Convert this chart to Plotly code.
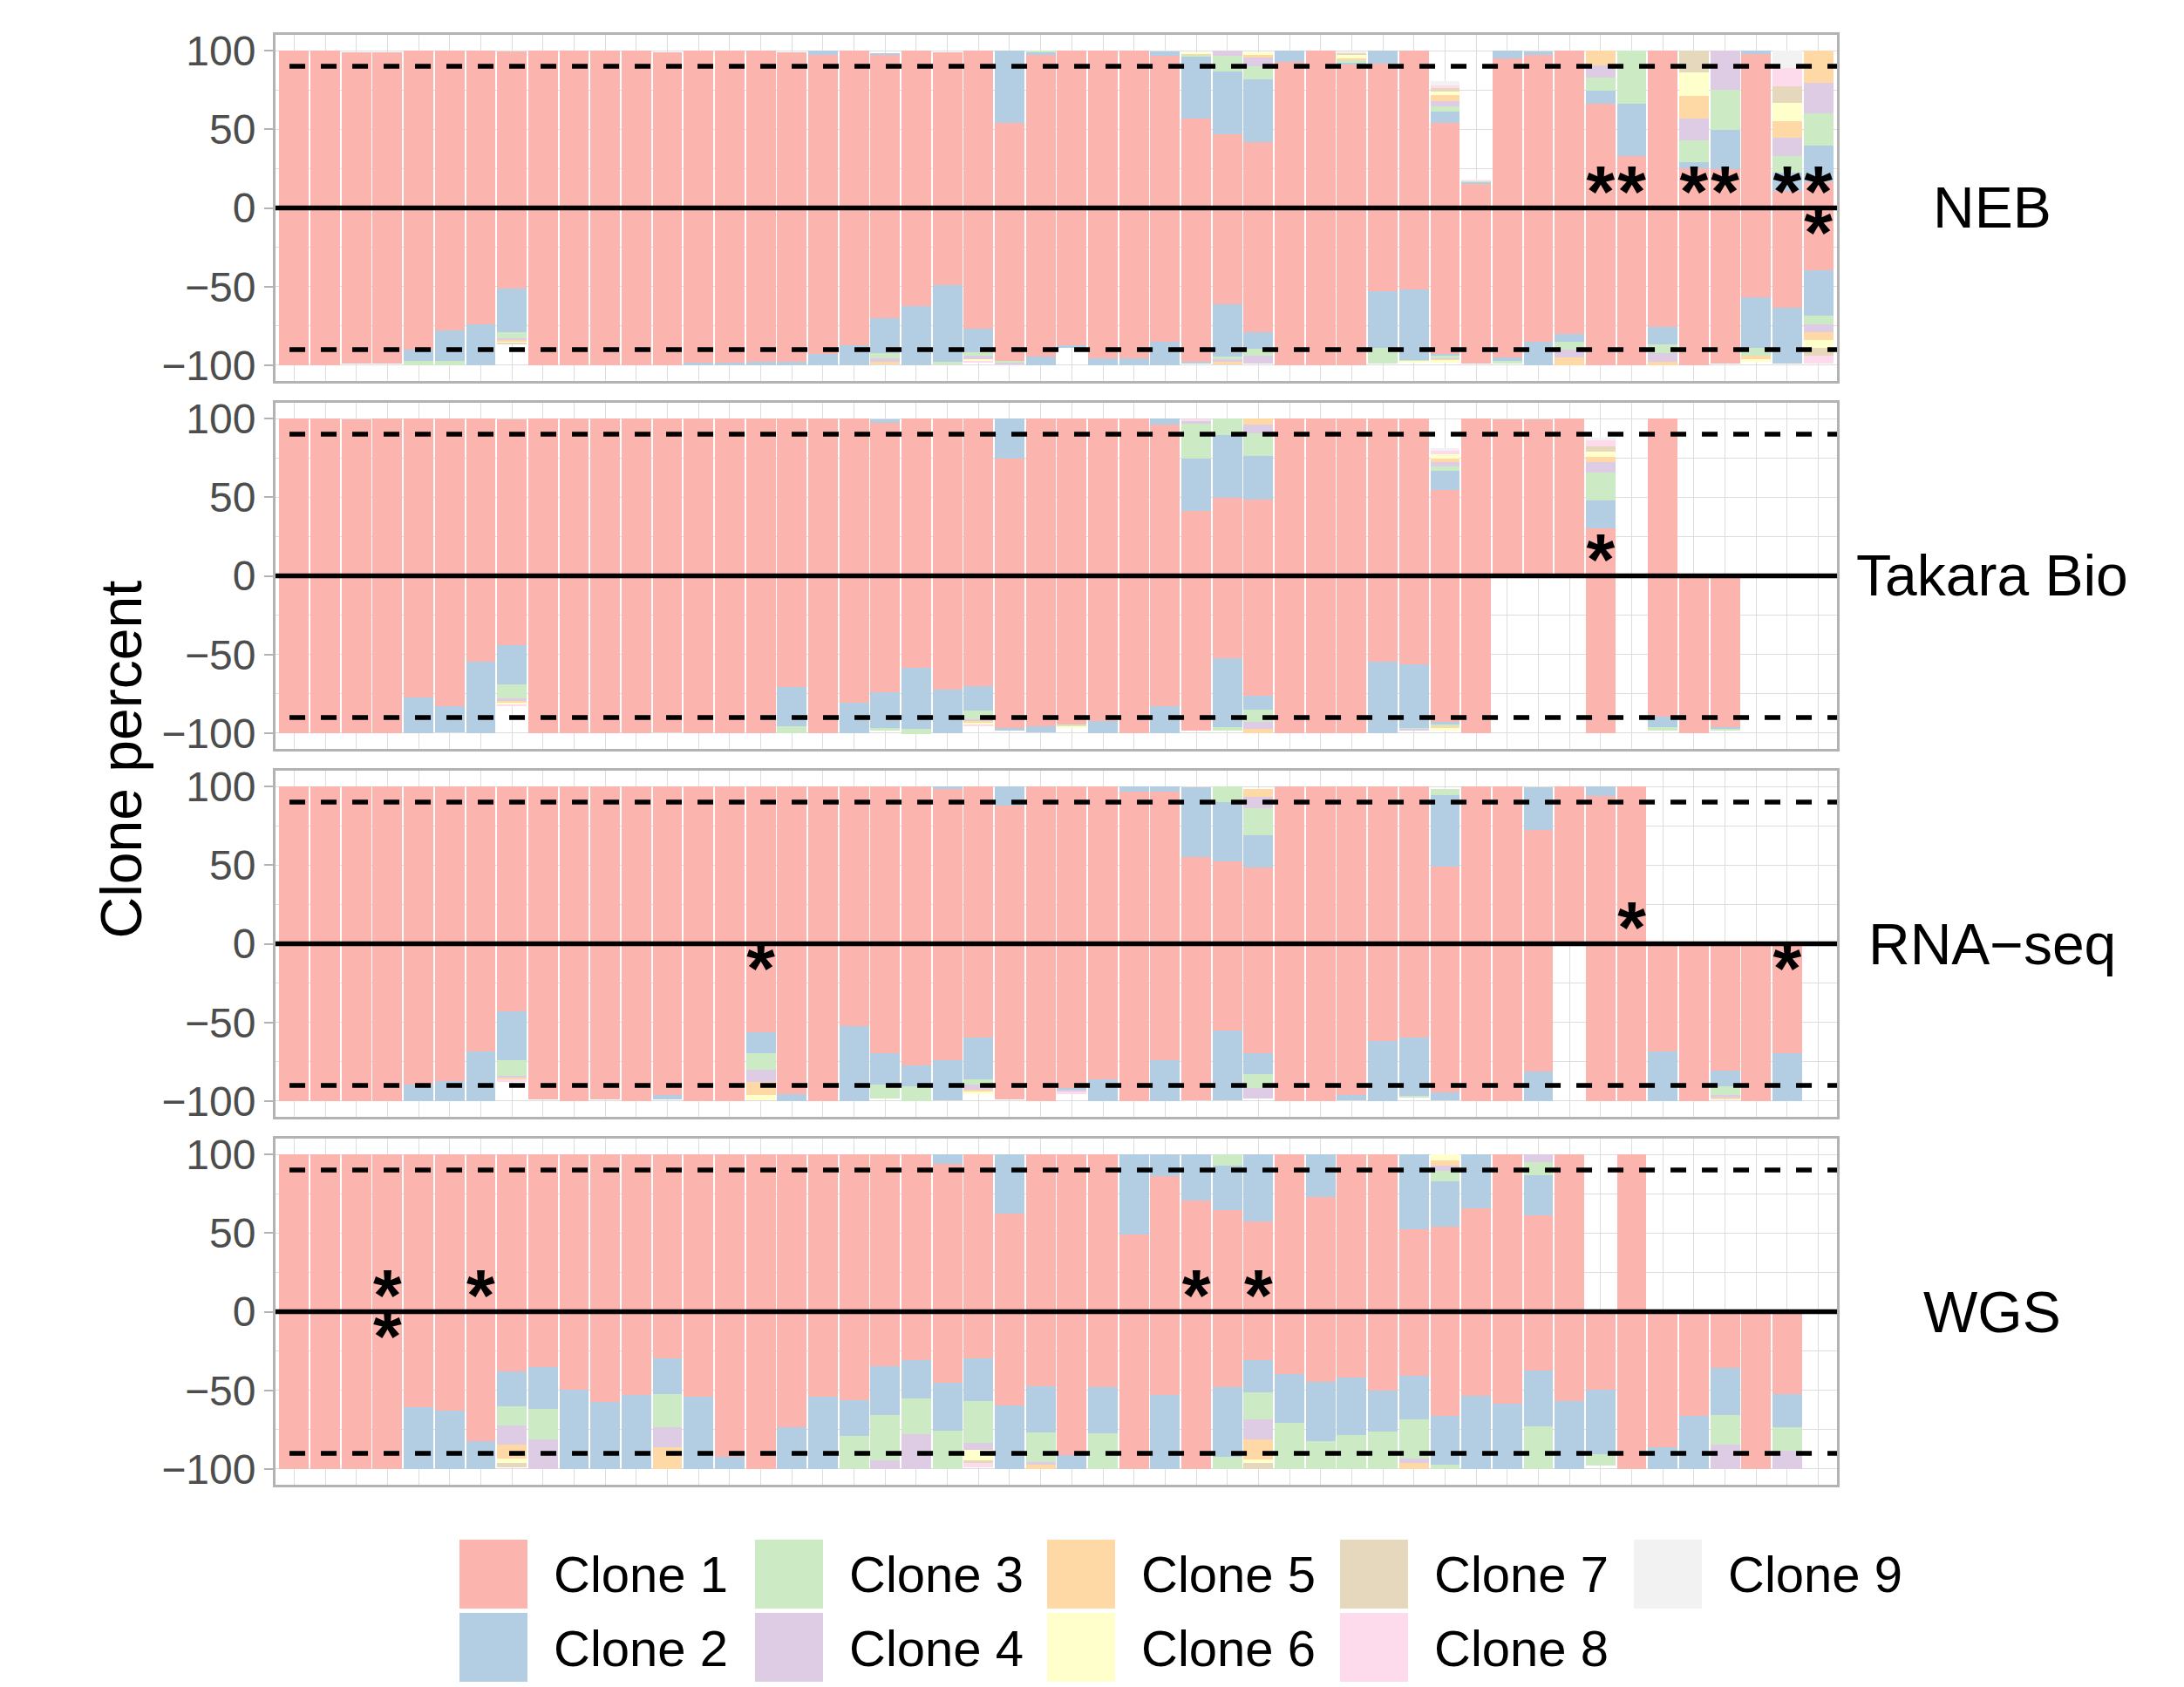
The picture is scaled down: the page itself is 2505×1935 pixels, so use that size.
import plotly.graph_objects as go

# ---------------- data ----------------
CLONE_NAMES = [f"Clone {i}" for i in range(1, 10)]
CLONE_COLORS = ["#FBB4AE", "#B3CDE3", "#CCEBC5", "#DECBE4", "#FED9A6",
                "#FFFFCC", "#E5D8BD", "#FDDAEC", "#F2F2F2"]
PANELS = ["NEB", "Takara Bio", "RNA\u2212seq", "WGS"]
SAMPLES = list(range(1, 51))
Y_TICKS = [-100, -50, 0, 50, 100]
Y_MINOR = [-75, -25, 25, 75]
THRESHOLD = 90

# each entry: clone percentages [clone1, clone2, ...] for one sample
NEB_TOP = [
    [100], [100], [99], [99], [100], [100], [100], [99.5], [100], [100],
    [100], [100], [99], [100], [100], [100], [99], [97, 3], [100], [97, 1.5],
    [100], [99], [100], [54, 46], [97, 2, 0.5], [100], [100], [100], [96.5, 3],
    [57, 39.5, 1, 0, 0.5, 1],
    [47, 39.5, 10, 3.5], [42, 40, 8, 5.5, 1.8, 1.8], [93, 7], [100],
    [91, 1.5, 1.5, 0, 1, 2, 1.5, 0, 0.5], [91.5, 8.5], [100],
    [54, 7.5, 3.3, 3.1, 3.7, 2.4, 2.2, 1.8, 2.8],
    [15.5, 1, 0.5, 0, 0, 0, 0, 0.5, 0.5], [95, 5],
    [97, 2.5], [100], [66.5, 8.3, 8.3, 7.7, 9.2], [33, 33.5, 33.5], [100],
    [25, 4, 14, 14, 14, 15, 14], [24.7, 24.7, 25.6, 24.9], [98, 2],
    [11, 11.4, 10.6, 11.5, 10.8, 11.5, 10.4, 11.9, 10.8],
    [16.5, 23, 20.7, 19.6, 20],
]
NEB_BOTTOM = [
    [100], [100], [99], [99], [90, 7.5, 2.5], [78, 19.5, 2.5], [74, 26],
    [51, 28, 4.3, 0.8, 1, 1, 0.5], [100], [100],
    [100], [100], [100], [98.5, 1.5], [98.5, 1.5], [97.6, 2.4], [97.6, 2.4],
    [92.6, 7.4], [87, 13], [70, 22, 3.7, 2.5, 1],
    [62.5, 37.5], [49, 48.7, 1.5], [77, 14.8, 2.2, 2.4, 0, 1.1, 0, 1.1],
    [97.6, 0, 0.8, 0.7], [94.4, 5.6], [87.4, 1.5], [95.7, 4.3], [95.7, 4.3],
    [85, 15], [97.6, 1.5],
    [61.5, 33, 1.9, 1.4, 1.4], [79, 10.7, 4.1, 5.2], [100], [100], [100],
    [53, 35.7, 10.3], [51.7, 45, 0.9, 0, 0, 0.9], [92.6, 1.5, 1.5, 1, 0.5, 1],
    [99], [94.8, 2.5, 1.5],
    [85, 15], [80, 5, 4.8, 5, 5.2], [100], [100], [75.7, 11.1, 5.2, 5.6, 2.4],
    [100], [99], [57, 31.7, 5.5, 0, 1.9, 1.8], [63.2, 35.7],
    [39.4, 29.3, 5.1, 5, 5, 5.1, 5, 5.1],
]
TAKARA_TOP = [
    [100], [100], [99.6], [100], [100], [100], [100], [99.6], [100], [100],
    [100], [100], [100], [100], [100], [100], [100], [100], [100], [97, 2.5],
    [100], [100], [100], [74.6, 25.4], [100], [100], [100], [100], [96.3, 3.7],
    [41.3, 33.3, 22.2, 1.9, 0, 0, 0, 0.9],
    [49.6, 39.8, 10.6], [48.7, 27.6, 14.1, 5.9, 3.7], [100], [100], [100],
    [100], [100], [54.6, 12.4, 2.4, 2.8, 2.2, 3, 0, 1.9, 1.7], [100], [99.6],
    [99.6], [100], [30.2, 17.6, 17.6, 6.9, 3.3, 3.1, 3.7, 3.7, 1.9], [],
    [100], [], [], [], [], [],
]
TAKARA_BOTTOM = [
    [100], [100], [100], [100], [77.2, 22.8], [83, 16.4], [54.4, 45.6],
    [43.8, 25.2, 9.1, 1.5, 1.5, 1, 0, 1], [100], [100],
    [100], [100], [99.5], [100], [100], [100], [70.8, 24.6, 4.6], [100],
    [80.7, 19.3], [74, 22.6, 1.8],
    [58.4, 38.7, 3.3], [72.4, 27.6], [70, 15.5, 5.5, 1.5, 1, 1, 0, 1],
    [96.7, 1.8], [95.4, 4], [94.9, 0, 0.9, 0, 0, 0.9], [92.2, 7.8], [100],
    [83, 17], [98.5],
    [52.6, 43.8, 2.2], [76.3, 8.6, 7.8, 4.4, 2.9], [100], [100], [100],
    [54.4, 45.6], [56, 40.7, 0.9, 0.9], [92.7, 1.8, 1.3, 0, 0.9, 1.8], [100], [],
    [], [], [100], [], [89.4, 6.9, 2.2], [100], [96.4, 1, 0.8], [], [], [],
]
RNASEQ_TOP = [
    [100], [100], [100], [100], [100], [100], [100], [100], [100], [100],
    [100], [100], [100], [100], [100], [100], [100], [100], [100], [100],
    [100], [98.5, 1.5], [100], [88, 12], [100], [100], [100], [96.5, 3.3],
    [96.5, 3.3], [55, 44.7],
    [52.4, 37.9, 9.7], [48.5, 20.5, 17.2, 7.3, 4.9], [100], [100], [100],
    [100], [100], [49, 45.5, 4], [100], [100],
    [72.2, 27.5], [100], [93.8, 6], [100], [], [], [], [], [], [],
]
RNASEQ_BOTTOM = [
    [100], [100], [100], [100], [89.6, 10.4], [87.2, 12.8], [68.4, 31.6],
    [43, 31.1, 9.9, 1.1, 1.3, 0, 0, 1.3], [98.7], [100],
    [98.7], [100], [96.3, 2.4], [100], [100], [56.1, 13.7, 10.1, 8.2, 8.2, 3.3],
    [95.4, 4.6], [100], [52.1, 47.9], [69.8, 19.7, 9.1],
    [77.1, 13.7, 9.2], [74, 25.6], [59.4, 26.9, 3.3, 3.1, 1.4, 1.3], [98.7],
    [100], [91.8, 1, 0, 1.5, 0, 0, 0, 1.1], [86.3, 13.7], [100], [74, 26],
    [99.6],
    [55.2, 44.4], [69.8, 13.2, 8.8, 6.4], [100], [100], [96, 3.7],
    [61.6, 38.4], [59.4, 37.5, 0.9], [94.5, 5.1], [100], [100],
    [81.4, 18.6], [], [100], [100], [68.6, 31.4], [100],
    [80.4, 10.1, 5.9, 1.2, 1.2], [100], [69.3, 30.7], [],
]
WGS_TOP = [
    [100], [100], [100], [100], [100], [100], [100], [100], [100], [100],
    [100], [100], [100], [100], [100], [100], [100], [100], [100], [100],
    [100], [94.2, 5.8], [100], [62.2, 37.8], [100], [100], [100], [49, 51],
    [85.9, 14.1], [70.4, 29.6],
    [64.5, 28.2, 7.3], [57.2, 42.8], [100], [73.1, 26.9], [100], [100],
    [52.5, 47.5], [53.9, 28.9, 6.8, 3.1, 3.7, 3.6], [65.4, 34.6], [100],
    [61.2, 25.6, 8.3, 4.9], [100], [], [100], [], [], [], [], [], [],
]
WGS_BOTTOM = [
    [100], [100], [100], [100], [60.9, 39.1], [62.7, 37.3], [82.3, 17.7],
    [37.8, 22.1, 12.6, 12.1, 8.6, 3.1, 2.7], [35.3, 26.5, 19.6, 18.6],
    [49.4, 50.6],
    [57.6, 42.4], [52.7, 47.3], [29.8, 22.3, 21.4, 12.8, 13.7], [54.3, 45.7],
    [92.3, 7.7], [100], [73.5, 26.5], [54.3, 45.7], [56.1, 22.9, 21],
    [34.7, 31.1, 28.7, 5.5],
    [30.5, 24.7, 22.9, 21.9], [45.3, 30.3, 24.4],
    [29.8, 26.9, 26.5, 4.6, 0, 6.8, 1.8, 2.7], [59.4, 40.6],
    [47.2, 29.3, 19, 1.8, 2.7], [91.4, 8.6], [47.9, 29.4, 22.7], [100],
    [53, 47], [100],
    [47.9, 44.1, 8], [30.7, 20.5, 17, 13.2, 12.4, 2.6, 3.6], [39.7, 31.1, 29.2],
    [44.4, 37.9, 17.7], [42, 36.2, 21.8], [50.3, 26.1, 23.6],
    [40.6, 28, 24.7, 3.1, 3.6], [66.2, 31.1, 2.7], [53.6, 46.4], [58.5, 41.5],
    [37.5, 35.1, 27.4], [57, 43], [49.7, 40.8, 7.3], [100], [85.9, 14.1],
    [66.2, 33.8], [35.6, 30.2, 18.8, 15.4], [100], [52.1, 21.4, 14.8, 11.7], [],
]

# samples marked with an asterisk (upper / lower half of each panel)
NEB_STARS_UP = [43, 44, 46, 47, 49, 50]
NEB_STARS_DOWN = [50]
TAKARA_STARS_UP = [43]
TAKARA_STARS_DOWN = []
RNASEQ_STARS_UP = [44]
RNASEQ_STARS_DOWN = [16, 49]
WGS_STARS_UP = [4, 7, 30, 32]
WGS_STARS_DOWN = [4]

PANEL_DATA = [
    (NEB_TOP, NEB_BOTTOM, NEB_STARS_UP, NEB_STARS_DOWN),
    (TAKARA_TOP, TAKARA_BOTTOM, TAKARA_STARS_UP, TAKARA_STARS_DOWN),
    (RNASEQ_TOP, RNASEQ_BOTTOM, RNASEQ_STARS_UP, RNASEQ_STARS_DOWN),
    (WGS_TOP, WGS_BOTTOM, WGS_STARS_UP, WGS_STARS_DOWN),
]

# ---------------- layout geometry (pixels) ----------------
W, H = 2505, 1935
L, R = 316, 2107
PANEL_BOXES = [(40, 437), (462, 859), (884, 1281), (1306, 1703)]
TOP, BOTTOM = PANEL_BOXES[0][0], PANEL_BOXES[-1][1]
PW, PH = R - L, BOTTOM - TOP
STAR_Y_UP, STAR_Y_DOWN = 6, -20   # anchor of the asterisk labels (data units)


def px_x(px):
    return (px - L) / PW


def px_y(py):
    return (BOTTOM - py) / PH


FONT = "Liberation Sans, Arial, Helvetica, sans-serif"
GRID = "#DEDEDE"
BORDER = "#B3B3B3"

fig = go.Figure()


def layer(rows, k, sign):
    return [sign * (r[k] if k < len(r) else 0) for r in rows]


shapes = []
annotations = []
for p, (top, bottom, up, down) in enumerate(PANEL_DATA):
    n = "" if p == 0 else str(p + 1)
    xa, ya = "x" + n, "y" + n
    for rows, sign in ((top, 1), (bottom, -1)):
        for k in range(9):
            fig.add_trace(go.Bar(
                x=SAMPLES, y=layer(rows, k, sign), width=0.95,
                marker=dict(color=CLONE_COLORS[k], line=dict(width=0)),
                name=CLONE_NAMES[k], showlegend=False,
                xaxis=xa, yaxis=ya, hoverinfo="skip"))
    # reference lines
    for yv, dash in ((THRESHOLD, "18px,18px"), (-THRESHOLD, "18px,18px"), (0, "solid")):
        shapes.append(dict(type="line", xref=xa, yref=ya,
                           x0=0.85 if dash != "solid" else 0.4, x1=50.6,
                           y0=yv, y1=yv, layer="above",
                           line=dict(color="black", width=5.5, dash=dash)))
    # asterisks
    sx = up + down
    sy = [STAR_Y_UP] * len(up) + [STAR_Y_DOWN] * len(down)
    if sx:
        fig.add_trace(go.Scatter(
            x=sx, y=sy, mode="text", text=["*"] * len(sx),
            textposition="middle center",
            textfont=dict(size=84, color="black", family=FONT, weight="bold"),
            showlegend=False, hoverinfo="skip", xaxis=xa, yaxis=ya, cliponaxis=False))
    # domains
    t, b = PANEL_BOXES[p]
    dom = [px_y(b), px_y(t)]
    fig.layout["xaxis" + n] = dict(
        domain=[0, 1], anchor=ya, range=[0.4, 50.6],
        tickvals=SAMPLES, showticklabels=False, ticks="",
        showgrid=True, gridcolor=GRID, gridwidth=1.3, zeroline=False,
        showline=True, linecolor=BORDER, linewidth=3, mirror=True,
        **({} if p == 0 else {"matches": "x"}))
    fig.layout["yaxis" + n] = dict(
        domain=dom, anchor=xa, range=[-110, 110],
        tickvals=Y_TICKS, ticks="outside", ticklen=10, tickwidth=2,
        tickcolor=BORDER, ticklabelstandoff=0,
        tickfont=dict(size=48, color="#4D4D4D", family=FONT),
        showgrid=True, gridcolor=GRID, gridwidth=1.3, zeroline=False,
        minor=dict(tickvals=Y_MINOR, showgrid=True, gridcolor=GRID, gridwidth=0.9, ticks=""),
        showline=True, linecolor=BORDER, linewidth=3, mirror=True)
    # facet label
    annotations.append(dict(
        text=PANELS[p], xref="paper", yref="paper",
        x=px_x(2285), y=(dom[0] + dom[1]) / 2, xanchor="center", yanchor="middle",
        showarrow=False, font=dict(size=66, color="black", family=FONT)))

# y-axis title
annotations.append(dict(
    text="Clone percent", xref="paper", yref="paper", x=px_x(138), y=0.5,
    xanchor="center", yanchor="middle", textangle=-90, showarrow=False,
    font=dict(size=66, color="black", family=FONT)))

# manual legend (2 rows x 5 columns, column-major)
COL_LEFT = [527, 866, 1201, 1537, 1874]
ROW_TOP = [1766, 1850]
SW = 78
for k in range(9):
    c, r = k // 2, k % 2
    x0, y0 = COL_LEFT[c], ROW_TOP[r]
    shapes.append(dict(type="rect", xref="paper", yref="paper",
                       x0=px_x(x0), x1=px_x(x0 + SW), y0=px_y(y0 + SW + 1), y1=px_y(y0),
                       fillcolor=CLONE_COLORS[k], line=dict(width=0), layer="above"))
    annotations.append(dict(
        text=CLONE_NAMES[k], xref="paper", yref="paper",
        x=px_x(x0 + 106), y=px_y(y0 + SW / 2 + 1), xanchor="left", yanchor="middle",
        showarrow=False, font=dict(size=58, color="black", family=FONT)))

fig.update_layout(
    width=W, height=H, barmode="relative", bargap=0,
    paper_bgcolor="white", plot_bgcolor="white",
    margin=dict(l=L, r=W - R, t=TOP, b=H - BOTTOM, pad=0),
    showlegend=False, shapes=shapes, annotations=annotations,
    font=dict(family=FONT))

fig.write_html("out.html", config={"displayModeBar": False},
               post_script="document.body.style.margin='0';document.body.style.overflow='hidden';")
